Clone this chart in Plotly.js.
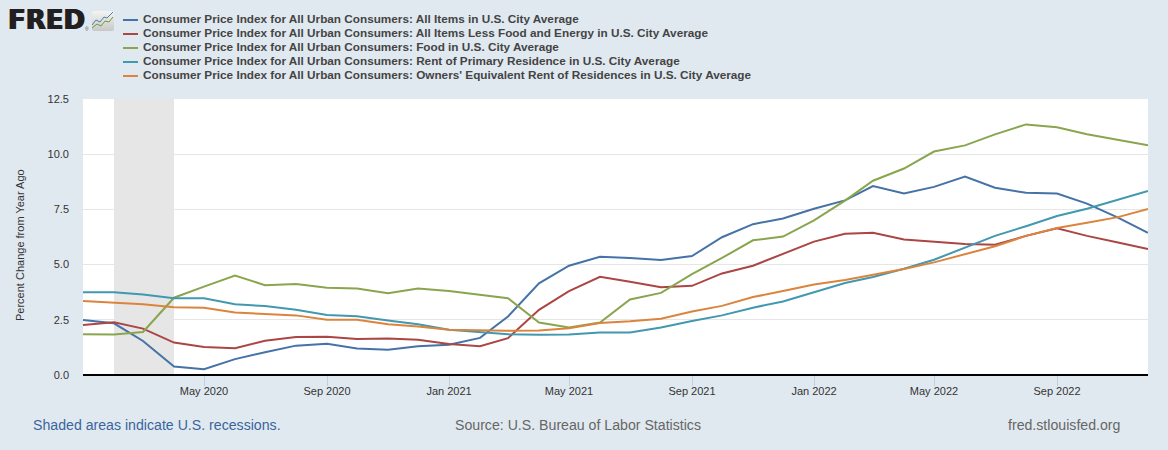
<!DOCTYPE html>
<html><head><meta charset="utf-8">
<script src="https://cdn.plot.ly/plotly-3.0.1.min.js"></script>
<style>html,body{margin:0;padding:0;background:#e1e9f0}#c{width:1168px;height:450px}</style>
</head><body><div id="c"></div>
<script>
const dates = ["2020-01-01","2020-02-01","2020-03-01","2020-04-01","2020-05-01","2020-06-01","2020-07-01","2020-08-01","2020-09-01","2020-10-01","2020-11-01","2020-12-01","2021-01-01","2021-02-01","2021-03-01","2021-04-01","2021-05-01","2021-06-01","2021-07-01","2021-08-01","2021-09-01","2021-10-01","2021-11-01","2021-12-01","2022-01-01","2022-02-01","2022-03-01","2022-04-01","2022-05-01","2022-06-01","2022-07-01","2022-08-01","2022-09-01","2022-10-01","2022-11-01","2022-12-01"];
const allItems = [2.49,2.34,1.54,0.38,0.26,0.72,1.03,1.33,1.41,1.20,1.14,1.30,1.37,1.68,2.65,4.15,4.95,5.35,5.30,5.21,5.39,6.24,6.83,7.09,7.53,7.91,8.56,8.22,8.52,8.99,8.48,8.25,8.22,7.76,7.13,6.44];
const core = [2.27,2.39,2.10,1.47,1.27,1.21,1.55,1.72,1.73,1.63,1.65,1.60,1.40,1.30,1.67,2.95,3.80,4.45,4.22,3.97,4.04,4.60,4.95,5.50,6.04,6.40,6.44,6.14,6.02,5.93,5.90,6.30,6.65,6.30,6.00,5.70];
const food = [1.85,1.83,1.95,3.50,4.00,4.50,4.07,4.12,3.95,3.92,3.70,3.92,3.80,3.63,3.48,2.38,2.15,2.38,3.42,3.72,4.57,5.30,6.10,6.27,7.00,7.90,8.80,9.35,10.12,10.40,10.90,11.35,11.22,10.90,10.63,10.40];
const rent = [3.75,3.75,3.65,3.48,3.48,3.20,3.12,2.96,2.72,2.66,2.47,2.30,2.05,1.95,1.85,1.82,1.83,1.93,1.92,2.15,2.45,2.70,3.05,3.33,3.76,4.17,4.44,4.81,5.22,5.78,6.30,6.74,7.20,7.53,7.94,8.33];
const oer = [3.35,3.28,3.20,3.07,3.05,2.83,2.78,2.70,2.50,2.50,2.30,2.20,2.05,2.02,2.00,2.02,2.12,2.35,2.43,2.55,2.88,3.13,3.53,3.80,4.10,4.30,4.53,4.80,5.10,5.48,5.83,6.30,6.66,6.90,7.15,7.52];
const names = ["Consumer Price Index for All Urban Consumers: All Items in U.S. City Average","Consumer Price Index for All Urban Consumers: All Items Less Food and Energy in U.S. City Average","Consumer Price Index for All Urban Consumers: Food in U.S. City Average","Consumer Price Index for All Urban Consumers: Rent of Primary Residence in U.S. City Average","Consumer Price Index for All Urban Consumers: Owners' Equivalent Rent of Residences in U.S. City Average"];
const colors = ["#4572a7","#aa4643","#89a54e","#4198af","#db843d"];
const tickDates = ["2020-05-01","2020-09-01","2021-01-01","2021-05-01","2021-09-01","2022-01-01","2022-05-01","2022-09-01"];
const tickLabels = ["May 2020","Sep 2020","Jan 2021","May 2021","Sep 2021","Jan 2022","May 2022","Sep 2022"];
const yTicks = [0,2.5,5,7.5,10,12.5];
const yLabels = ["0.0","2.5","5.0","7.5","10.0","12.5"];
const recession = ["2020-02-01","2020-04-01"];
const W=1168,H=450,L=83,R=1148,T=99,B=375;
const series=[allItems,core,food,rent,oer];
const traces=series.map((y,i)=>({x:dates,y:y,name:names[i],type:"scatter",mode:"lines",line:{color:colors[i],width:2},showlegend:false}));
const px=(x)=>(x-L)/(R-L), py=(y)=>(B-y)/(B-T);
const shapes=[
 {type:"rect",xref:"x",yref:"paper",x0:recession[0],x1:recession[1],y0:0,y1:1,fillcolor:"#e6e6e6",line:{width:0},layer:"below"},
 {type:"line",xref:"paper",yref:"paper",x0:0,x1:1,y0:0,y1:0,line:{color:"#000000",width:2}}
];
const annotations=[];
names.forEach((n,i)=>{
  shapes.push({type:"line",xref:"paper",yref:"paper",x0:px(123),x1:px(138),y0:py(20+i*14),y1:py(20+i*14),line:{color:colors[i],width:2}});
  annotations.push({xref:"paper",yref:"paper",x:px(141),y:py(18.7+i*14),xanchor:"left",yanchor:"middle",showarrow:false,text:"<b>"+n+"</b>",font:{family:"Liberation Sans",size:11.75,color:"#444444"}});
});
annotations.push({xref:"paper",yref:"paper",x:px(6),y:py(20.5),xanchor:"left",yanchor:"middle",showarrow:false,text:"<b>FRED</b>",font:{family:"DejaVu Sans",size:26,color:"#231f20",shadow:"0.7px 0 0 #231f20, -0.7px 0 0 #231f20"}});
annotations.push({xref:"paper",yref:"paper",x:px(86.5),y:py(29),xanchor:"center",yanchor:"middle",showarrow:false,text:"®",font:{family:"Liberation Sans",size:5,color:"#555555"}});
annotations.push({xref:"paper",yref:"paper",x:px(20),y:py(245),xanchor:"center",yanchor:"middle",textangle:-90,showarrow:false,text:"Percent Change from Year Ago",font:{family:"Liberation Sans",size:11,color:"#333333"}});
[["Shaded areas indicate U.S. recessions.",31,"left","#3a659c"],["Source: U.S. Bureau of Labor Statistics",577.6,"center","#666666"],["fred.stlouisfed.org",1122,"right","#666666"]].forEach(a=>{
  annotations.push({xref:"paper",yref:"paper",x:px(a[1]),y:py(425),xanchor:a[2],yanchor:"middle",showarrow:false,text:a[0],font:{family:"Liberation Sans",size:14.15,color:a[3]}});
});
const icon='data:image/svg+xml;utf8,'+encodeURIComponent('<svg xmlns="http://www.w3.org/2000/svg" width="22" height="20"><defs><linearGradient id="g" x1="0" y1="0" x2="0" y2="1"><stop offset="0" stop-color="#f4f4f4"/><stop offset="1" stop-color="#c8c8c8"/></linearGradient></defs><rect width="22" height="20" rx="2" fill="url(#g)"/><polyline points="0,14 4,9 8,11 12,6 15,7 21,1" fill="none" stroke="#4f7fa5" stroke-width="1"/><polyline points="0,17 5,13 9,15 13,10 17,11 21,6" fill="none" stroke="#6f9a35" stroke-width="1"/></svg>');
const layout={width:W,height:H,paper_bgcolor:"#e1e9f0",plot_bgcolor:"#ffffff",
 margin:{l:L,r:W-R,t:T,b:H-B,pad:0},showlegend:false,
 font:{family:"Liberation Sans",color:"#333333",size:11},
 xaxis:{type:"date",range:["2020-01-01","2022-12-01"],tickmode:"array",tickvals:tickDates,ticktext:tickLabels,ticks:"outside",ticklen:10,tickcolor:"#c0d0e0",tickwidth:1,ticklabelstandoff:-4,showgrid:false,showline:false,zeroline:false,tickfont:{family:"Liberation Sans",size:11,color:"#333333"}},
 yaxis:{range:[0,12.5],tickmode:"array",tickvals:yTicks,ticktext:yLabels,showgrid:true,gridcolor:"#e6e6e6",gridwidth:1.3,zeroline:false,showline:false,ticks:"",ticklabelstandoff:13,tickfont:{family:"Liberation Sans",size:11,color:"#333333"}},
 shapes:shapes,annotations:annotations,
 images:[{source:icon,xref:"paper",yref:"paper",x:px(92),y:py(11),sizex:22/(R-L),sizey:20/(B-T),xanchor:"left",yanchor:"top",sizing:"stretch",layer:"above"}]
};
Plotly.newPlot("c",traces,layout,{staticPlot:true,displayModeBar:false});
</script></body></html>
